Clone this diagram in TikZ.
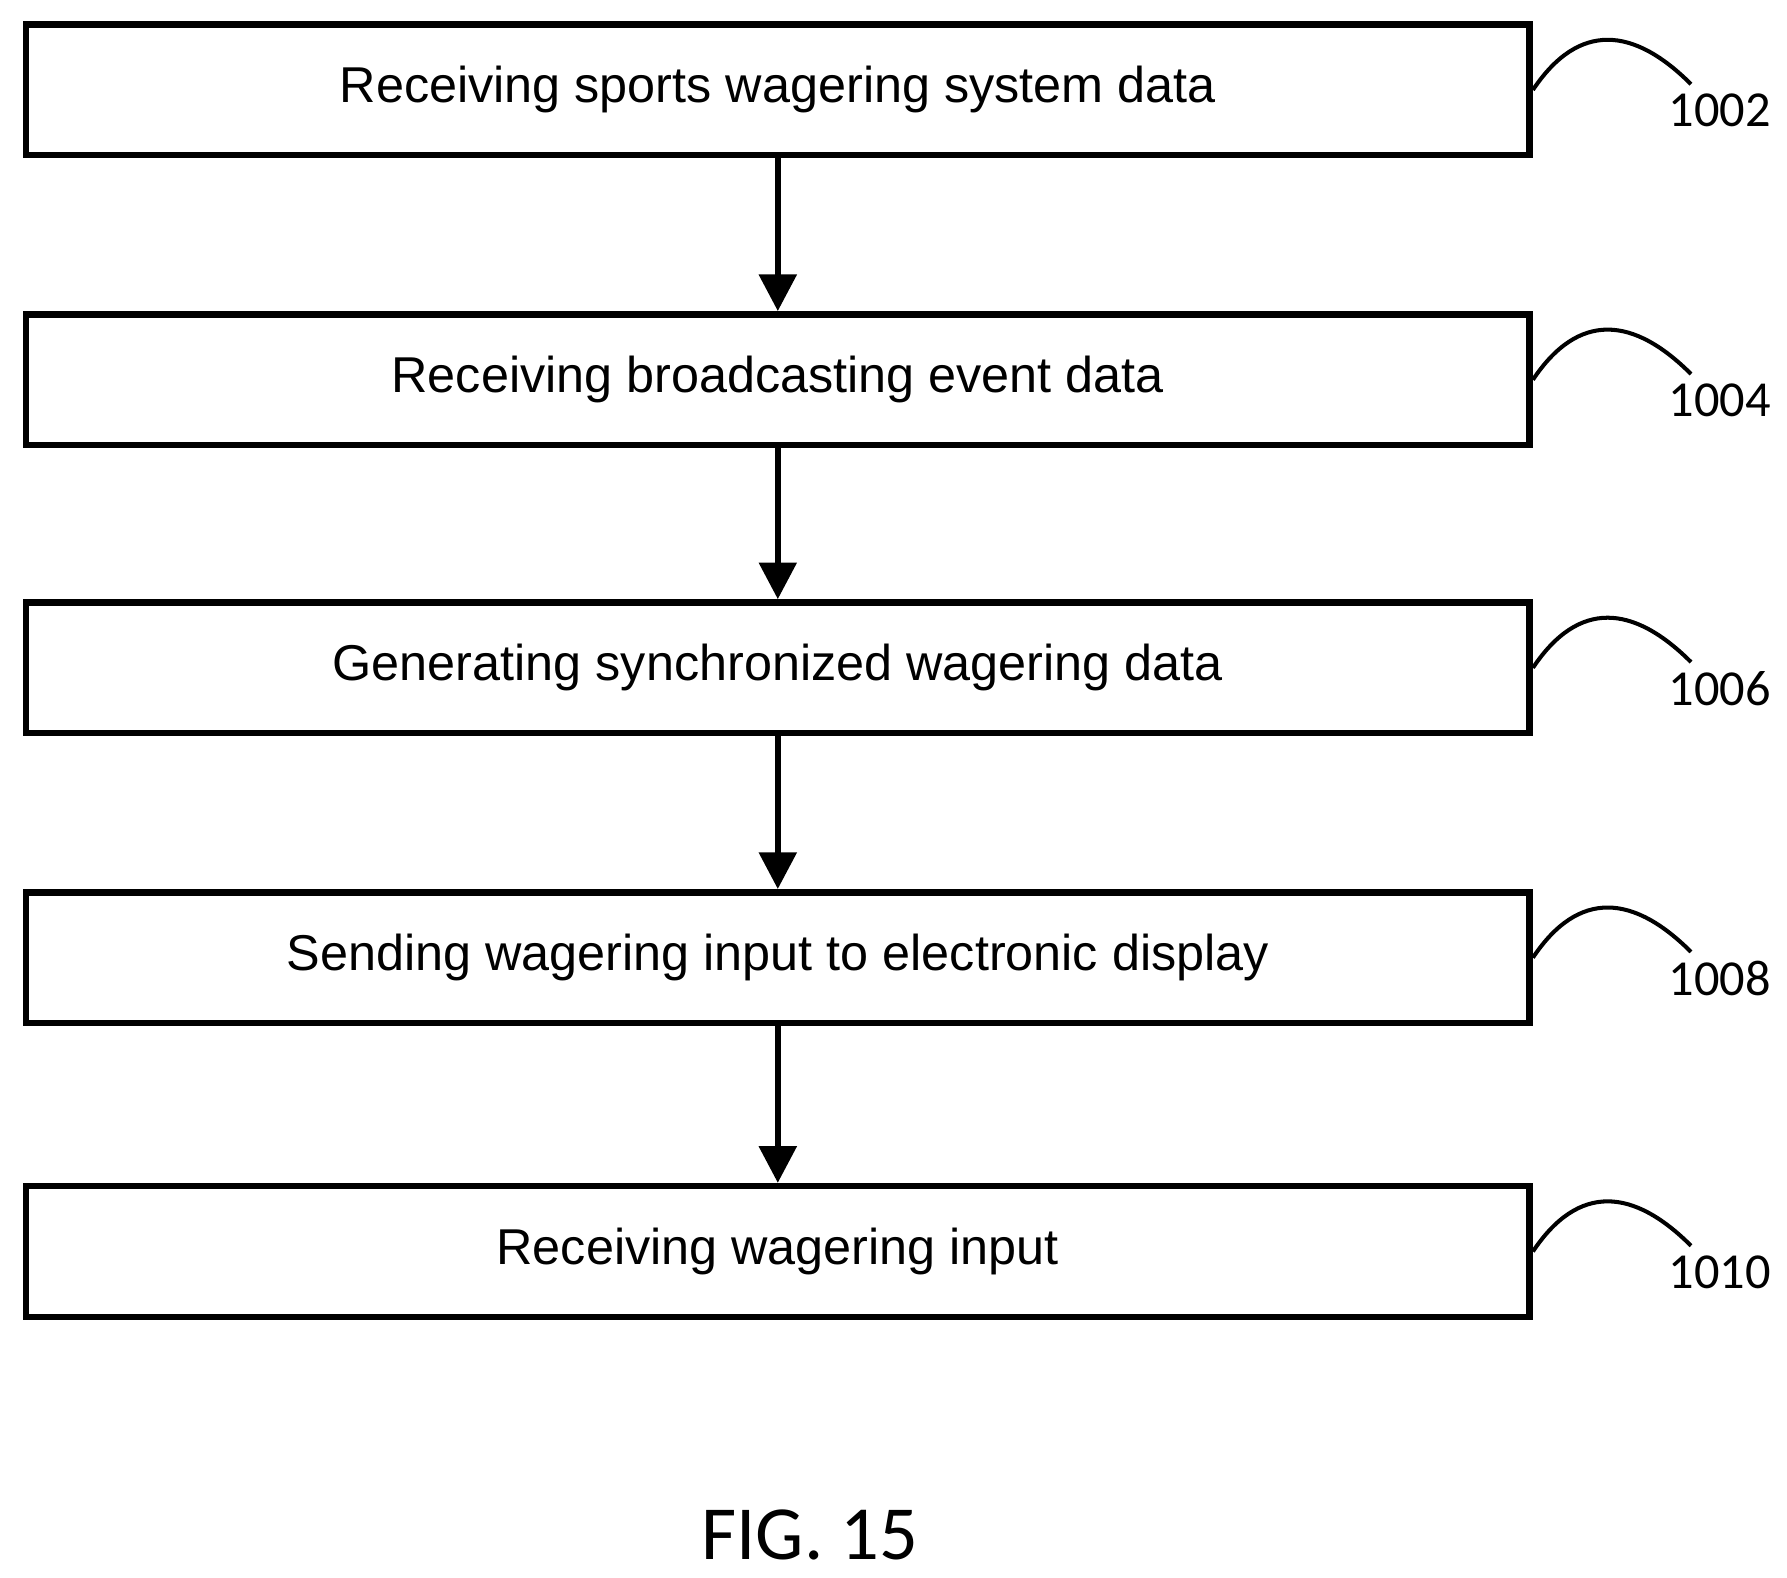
\documentclass[tikz,border=0pt]{standalone}
\usepackage{fontspec}
\setmainfont{Liberation Sans}
\newfontfamily\calib{Carlito}
\usetikzlibrary{arrows.meta,positioning}

\begin{document}
\begin{tikzpicture}[x=0.01cm,y=-0.01cm,>={Triangle[length=0.32cm,width=0.32cm]}, every node/.style={font=\fontsize{12.5pt}{14pt}\selectfont}]
    \tikzset{flowstep/.style={draw,line width=1.6pt,minimum width=13.12cm,minimum height=1.14cm,inner sep=0pt}}
    \tikzset{flow/.style={->,line width=1.6pt}}
    \tikzset{lead/.style={line width=1pt}}
    \tikzset{ref/.style={font=\calib\fontsize{12.5pt}{14pt}\selectfont}}
    \useasboundingbox (0,0) rectangle (1560,1377);

    % steps
    \node[flowstep] (s1) at (679,78.5) {Receiving sports wagering system data};
    \node[flowstep] (s2) at (679,331.5) {Receiving broadcasting event data};
    \node[flowstep] (s3) at (679,583) {Generating synchronized wagering data};
    \node[flowstep] (s4) at (679,836) {Sending wagering input to electronic display};
    \node[flowstep] (s5) at (679,1092.5) {Receiving wagering input};

    % arrows
    \draw[flow] (s1) -- (s2);
    \draw[flow] (s2) -- (s3);
    \draw[flow] (s3) -- (s4);
    \draw[flow] (s4) -- (s5);

    % reference numerals
    \foreach \s/\n in {s1/1002,s2/1004,s3/1006,s4/1008,s5/1010} {
      \draw[lead] (\s.east) .. controls +(40,-60) and +(-50,-50) .. ++(138,-5);
      \node[ref] (n\n) at ([shift={(163,18)}]\s.east) {\n};
    }

    \node[ref,font=\calib\fontsize{19pt}{22pt}\selectfont] (fig) at (707,1340) {FIG. 15};
  \end{tikzpicture}
\end{document}
